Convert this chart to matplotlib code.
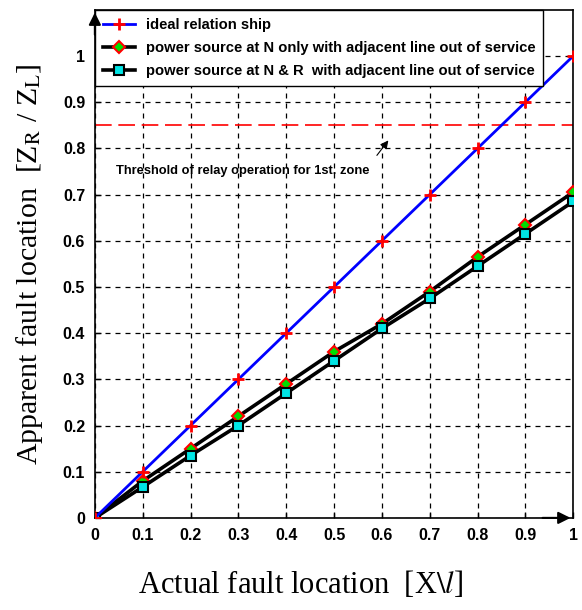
import numpy as np
import matplotlib
matplotlib.use('Agg')
import matplotlib.pyplot as plt

# data
x = [0, 0.1, 0.2, 0.3, 0.4, 0.5, 0.6, 0.7, 0.8, 0.9, 1.0]
ideal = [0, 0.1, 0.2, 0.3, 0.4, 0.5, 0.6, 0.7, 0.8, 0.9, 1.0]
n_only = [0, 0.08, 0.15, 0.22, 0.29, 0.36, 0.42, 0.49, 0.565, 0.635, 0.705]
n_and_r = [0, 0.067, 0.135, 0.2, 0.27, 0.34, 0.41, 0.475, 0.545, 0.615, 0.685]
threshold = 0.85
tick_vals = [0, 0.1, 0.2, 0.3, 0.4, 0.5, 0.6, 0.7, 0.8, 0.9, 1]
tick_labels = ['0', '0.1', '0.2', '0.3', '0.4', '0.5', '0.6', '0.7', '0.8', '0.9', '1']

plt.rcParams['mathtext.fontset'] = 'stix'
sans = ['Liberation Sans', 'DejaVu Sans']
serif = ['Liberation Serif', 'DejaVu Serif']

fig = plt.figure(figsize=(5.82, 6.10), dpi=100)
ax = fig.add_axes([0.163, 0.151, 0.822, 0.833])

ax.plot(x, ideal, color='blue', lw=2, marker='+', ms=9, mec='red', mew=2,
        label='ideal relation ship', zorder=4)
ax.plot(x, n_only, color='black', lw=2.6, marker='D', ms=6, mfc='#00dd00',
        mec='red', mew=1.5, label='power source at N only with adjacent line out of service', zorder=3)
ax.plot(x, n_and_r, color='black', lw=2.6, marker='s', ms=7, mfc='#00e5e5',
        mec='black', mew=1.5, label='power source at N & R  with adjacent line out of service', zorder=3)

ax.axhline(threshold, color='red', ls=(0, (10, 4)), lw=1.2, zorder=2)

ax.text(0.045, 0.745, 'Threshold of relay operation for 1st. zone', family=sans,
        fontweight='bold', fontsize=9.3)
ax.annotate('', xy=(0.617, 0.822), xytext=(0.586, 0.78),
            arrowprops=dict(arrowstyle='-|>', color='black', lw=0.8, mutation_scale=12))

ax.set_xlim(0, 1)
ax.set_ylim(0, 1.1)
ax.set_xticks(tick_vals)
ax.set_xticklabels(tick_labels)
ax.set_yticks(tick_vals)
ax.set_yticklabels(tick_labels)
for lab in ax.get_xticklabels() + ax.get_yticklabels():
    lab.set_family(sans)
    lab.set_fontweight('bold')
    lab.set_fontsize(11.5)
ax.tick_params(direction='in', length=4, width=1, pad=7)

ax.grid(True, color='black', ls=(0, (4, 4)), lw=0.9)
for s in ax.spines.values():
    s.set_linewidth(1.2)

ax.set_xlabel(r'Actual fault location  [X$\backslash\mathit{l}$]', family=serif, fontsize=22)
ax.xaxis.set_label_coords(0.43, -0.10)
ax.set_ylabel(r'Apparent fault location  [Z$_\mathrm{R}$ / Z$_\mathrm{L}$]', family=serif, fontsize=21.5)
ax.yaxis.set_label_coords(-0.105, 0.50)

leg = ax.legend(loc='upper left', bbox_to_anchor=(0, 1), borderaxespad=0, fancybox=False,
                framealpha=1, edgecolor='black', prop=dict(family=sans, weight='bold', size=10.6),
                handlelength=2.2, borderpad=0.55, labelspacing=0.62, handletextpad=0.7)
leg.get_frame().set_linewidth(1.0)

# arrows on the axes, drawn above the legend
a1 = ax.annotate('', xy=(0, 1.1), xytext=(0, 1.04),
                 arrowprops=dict(arrowstyle='-|>', color='black', lw=1.5, mutation_scale=18),
                 annotation_clip=False)
a2 = ax.annotate('', xy=(1.0, 0), xytext=(0.93, 0),
                 arrowprops=dict(arrowstyle='-|>', color='black', lw=1.5, mutation_scale=18),
                 annotation_clip=False)
a1.set_zorder(10)
a2.set_zorder(10)

plt.savefig('out.png', dpi=100)
